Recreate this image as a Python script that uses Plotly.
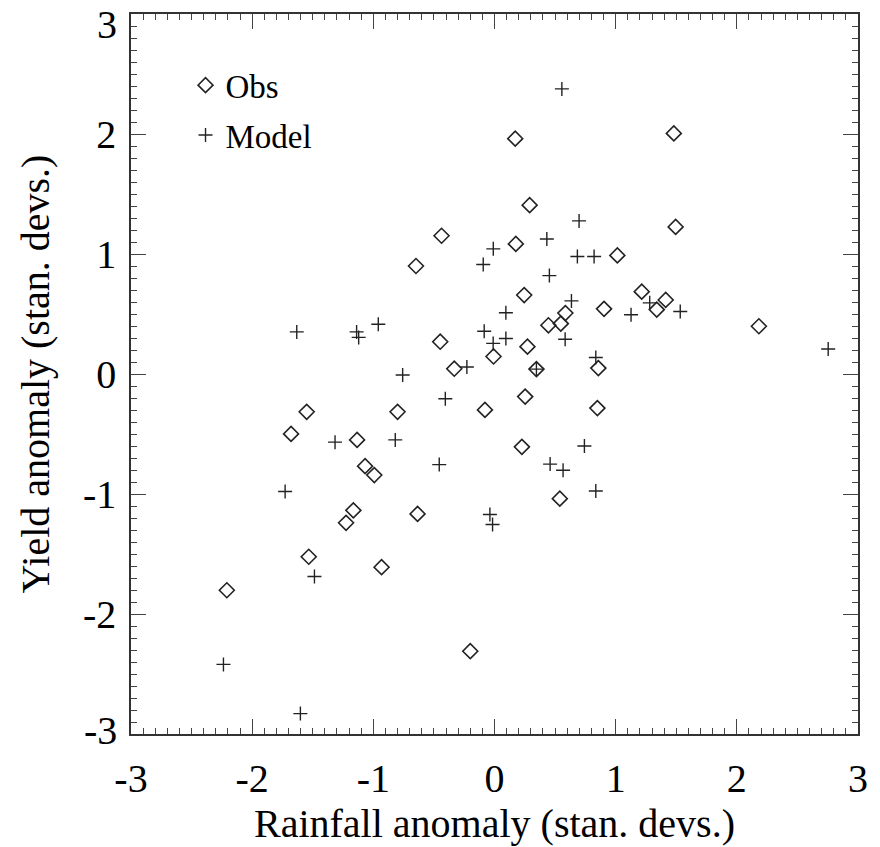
import plotly.graph_objects as go

# Observed (rainfall anomaly, yield anomaly)
obs_x = [0.171, 1.480, 0.290, 1.495, 0.176, 1.014, -0.437, -0.648, 0.245, 1.215,
         1.413, 1.339, 0.904, 0.585, 0.547, 0.445, 2.182, -0.448, 0.272, -0.008,
         -0.332, 0.346, 0.857, -1.550, -0.800, -0.079, 0.253, 0.849, -1.679, -1.134,
         0.226, -1.068, -0.992, -1.165, -1.225, -0.635, 0.539, -1.533, -0.932, -2.209,
         -0.200]
obs_y = [1.961, 2.005, 1.407, 1.226, 1.084, 0.988, 1.152, 0.900, 0.658, 0.686,
         0.617, 0.537, 0.543, 0.508, 0.420, 0.406, 0.398, 0.269, 0.228, 0.146,
         0.044, 0.041, 0.049, -0.315, -0.315, -0.299, -0.188, -0.284, -0.499, -0.549,
         -0.607, -0.768, -0.842, -1.136, -1.240, -1.166, -1.039, -1.523, -1.610, -1.802,
         -2.310]

# Model (rainfall anomaly, yield anomaly)
mod_x = [0.556, 0.698, -0.010, -0.093, 0.432, 0.684, 0.822, 0.453, 0.635, 1.281,
         1.533, 1.127, 0.094, -0.085, -0.011, 0.094, 0.583, 2.754, 0.836, 0.346,
         -1.632, -1.138, -1.121, -0.959, -0.228, -0.758, -0.406, -1.316, -0.819, -0.456,
         -1.728, -0.038, -0.016, -1.486, -2.237, -1.602, 0.742, 0.459, 0.566, 0.836]
mod_y = [2.376, 1.276, 1.043, 0.913, 1.125, 0.979, 0.979, 0.820, 0.609, 0.593,
         0.521, 0.494, 0.510, 0.356, 0.255, 0.296, 0.290, 0.208, 0.137, 0.041,
         0.351, 0.351, 0.305, 0.414, 0.058, -0.008, -0.206, -0.568, -0.549, -0.755,
         -0.979, -1.171, -1.254, -1.687, -2.420, -2.830, -0.600, -0.751, -0.802, -0.975]

x_ticks = [-3, -2, -1, 0, 1, 2, 3]
y_ticks = [-2, -1, 0, 1, 2]
y_end_ticks = [3, -3]
axis_range = [-3, 3]

FONT = "Liberation Serif"
INK = "#222222"
TICK = "#444444"
FS = 40

fig = go.Figure()
fig.add_trace(go.Scatter(
    x=obs_x, y=obs_y, mode="markers", name="Obs", legendgroup="a",
    marker=dict(symbol="diamond-open", size=11.5, color=INK, line=dict(width=1.6, color=INK)),
))
fig.add_trace(go.Scatter(
    x=mod_x, y=mod_y, mode="markers", name="Model", legendgroup="b",
    marker=dict(symbol="cross-thin-open", size=10, color=INK, line=dict(width=1.4, color=INK)),
))
# invisible trace anchoring the mirrored (top/right) tick axes
fig.add_trace(go.Scatter(x=[], y=[], xaxis="x2", yaxis="y2", showlegend=False, hoverinfo="skip"))

minor = dict(ticks="inside", ticklen=6, tickwidth=1.1, tickcolor=TICK, dtick=0.1, showgrid=False)
common = dict(
    range=axis_range, showgrid=False, zeroline=False,
    ticks="inside", ticklen=15, tickwidth=1.2, tickcolor=TICK, minor=minor,
)

fig.update_layout(
    xaxis=dict(
        tickvals=x_ticks, ticktext=[str(v) for v in x_ticks],
        showline=True, mirror=True, linecolor="#333333", linewidth=1.5,
        tickfont=dict(family=FONT, size=FS, color="black"),
        ticklabelstandoff=8,
        title=dict(text="Rainfall anomaly (stan. devs.)", font=dict(family=FONT, size=FS, color="black"), standoff=6),
        **common,
    ),
    yaxis=dict(
        tickvals=y_ticks, ticktext=[str(v) for v in y_ticks],
        showline=True, mirror=True, linecolor="#333333", linewidth=1.5,
        tickfont=dict(family=FONT, size=FS, color="black"),
        ticklabelstandoff=5,
        title=dict(text="Yield anomaly (stan. devs.)", font=dict(family=FONT, size=FS, color="black"), standoff=21),
        **common,
    ),
    xaxis2=dict(overlaying="x", side="top", anchor="y", tickvals=x_ticks,
                showticklabels=False, showline=False, **common),
    yaxis2=dict(overlaying="y", side="right", anchor="x", tickvals=y_ticks + y_end_ticks,
                showticklabels=False, showline=False, **common),
)

for v, shift in zip(y_end_ticks, [-10, 4]):
    fig.add_annotation(
        x=0, xref="paper", xanchor="right", xshift=-12,
        y=v, yref="y", yanchor="middle", yshift=shift,
        text=str(v), showarrow=False,
        font=dict(family=FONT, size=FS, color="black"),
    )

fig.update_layout(
    width=880, height=847,
    margin=dict(l=131, r=21, t=12, b=106),
    paper_bgcolor="white", plot_bgcolor="white",
    showlegend=True,
    legend=dict(
        x=0.075, y=0.94, xanchor="left", yanchor="top",
        bgcolor="rgba(0,0,0,0)", borderwidth=0,
        font=dict(family=FONT, size=33, color="black"),
        tracegroupgap=4,
    ),
)

fig.write_html("out.html")
